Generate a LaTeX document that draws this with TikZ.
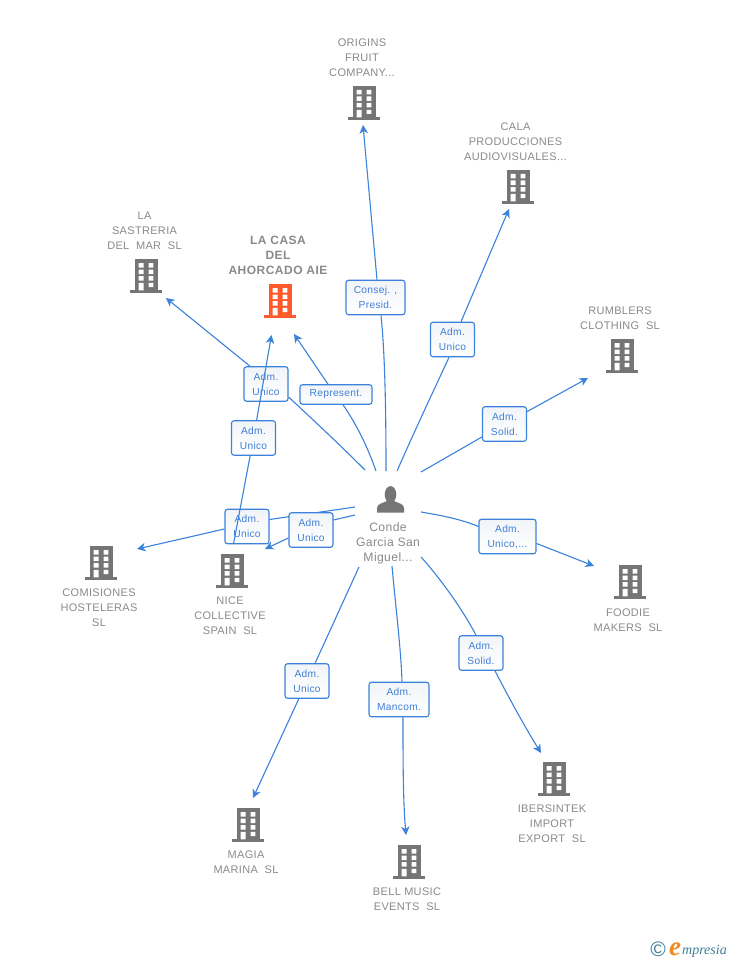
\documentclass[tikz,border=0pt]{standalone}
\usepackage{fontspec}
\setmainfont{Liberation Sans}
\newfontfamily\logofont{Liberation Serif}
\usetikzlibrary{arrows.meta}
\definecolor{edgeblue}{HTML}{3B82DC}
\definecolor{boxtext}{HTML}{3F7FD6}
\definecolor{boxtop}{HTML}{F1F4F8}
\definecolor{icongray}{HTML}{757575}
\definecolor{labelgray}{HTML}{8A8A8A}
\definecolor{hotorange}{HTML}{FF5A2B}
\definecolor{logoteal}{HTML}{3F7F95}
\definecolor{logoorange}{HTML}{F08A1E}
\newcommand{\bldgshape}[1]{%
  \begin{scope}[shift={(path picture bounding box.center)}]
    \fill[#1] (-10.7,-17) rectangle (11.7,15);
    \fill[#1] (-16,14.3) rectangle (16,17);
    \fill[white] (-7.3,-13) rectangle (-2.5,-8.5) (2.5,-13) rectangle (7.3,-8.5)
      (-7.3,-6.5) rectangle (-2.5,-2) (2.5,-6.5) rectangle (7.3,-2)
      (-7.3,0) rectangle (-2.5,4.5) (2.5,0) rectangle (7.3,4.5)
      (2.5,6.8) rectangle (7.3,11) (-7.3,6.8) rectangle (-2.5,14.3);
  \end{scope}}
\tikzset{x=1pt,y=-1pt,
  bldg/.style={minimum width=33pt,minimum height=36pt,inner sep=0pt,path picture={\bldgshape{icongray}}},
  hotbldg/.style={minimum width=33pt,minimum height=36pt,inner sep=0pt,path picture={\bldgshape{hotorange}}},
  person/.style={minimum width=30pt,minimum height=30pt,inner sep=0pt,path picture={
    \begin{scope}[shift={(path picture bounding box.center)}]
      \fill[icongray] (0,-5) ellipse (5.8 and 8.4);
      \fill[icongray] (-13.5,13.2) -- (-13.5,8.5) .. controls (-13.5,4) and (-7,3.5) .. (-3.5,1.5)
        -- (3.5,1.5) .. controls (7,3.5) and (13.5,4) .. (13.5,8.5) -- (13.5,13.2) -- cycle;
    \end{scope}}},
  tag/.style={font=\fontsize{11}{15}\selectfont\addfontfeature{LetterSpace=3},text=labelgray,align=center,inner sep=0pt,anchor=center},
  hottag/.style={font=\fontsize{12}{15}\selectfont\bfseries\addfontfeature{LetterSpace=4},text=labelgray,align=center,inner sep=0pt,anchor=center},
  persontag/.style={font=\fontsize{12.2}{15}\selectfont\addfontfeature{LetterSpace=3},text=labelgray,align=center,inner sep=0pt,anchor=center},
  rolebox/.style={draw=edgeblue,line width=1.1pt,rounded corners=2.5pt,top color=boxtop,bottom color=white,
    font=\fontsize{10.2}{15}\selectfont\addfontfeature{LetterSpace=3},text=boxtext,align=center,inner sep=0pt,minimum height=34.5pt,minimum width=44pt},
  link/.style={draw=edgeblue,line width=1.1pt,-{Stealth[length=8.5pt,width=8.5pt,inset=2.5pt]}},
  tail/.style={draw=edgeblue,line width=1.1pt},
}
\begin{document}
\begin{tikzpicture}
\useasboundingbox (0,0) rectangle (728,960);
\fill[white] (0,0) rectangle (728,960);

% free ends
\coordinate (sOrig) at (386,471);  \coordinate (eOrig) at (363,125);
\coordinate (sCala) at (397,471);  \coordinate (eCala) at (509,209);
\coordinate (sRumb) at (421,472);  \coordinate (eRumb) at (588,378);
\coordinate (sFood) at (421,512);  \coordinate (eFood) at (594,566);
\coordinate (sIber) at (421,557);  \coordinate (eIber) at (541,753);
\coordinate (sBell) at (392,566);  \coordinate (eBell) at (406,835);
\coordinate (sMagi) at (359,567);  \coordinate (eMagi) at (253,798);
\coordinate (sComi) at (355,507);  \coordinate (eComi) at (137,549);
\coordinate (sNiceB) at (355,515); \coordinate (eNiceB) at (265,549);
\coordinate (sSast) at (365,470);  \coordinate (eSast) at (166,298);
\coordinate (sCasa) at (376,471);  \coordinate (eCasa) at (294,334);
\coordinate (sNice) at (233.5,544);\coordinate (eNice) at (271.5,335);

% icons
\node[bldg] (origins) at (364,103) {};
\node[bldg] (cala) at (518,187) {};
\node[bldg] (sastreria) at (146,276) {};
\node[hotbldg] (casa) at (280,301) {};
\node[bldg] (rumblers) at (622,356) {};
\node[bldg] (comisiones) at (101,563) {};
\node[bldg] (nice) at (232,571) {};
\node[bldg] (foodie) at (630,582) {};
\node[bldg] (ibersintek) at (554,779) {};
\node[bldg] (magia) at (248,825) {};
\node[bldg] (bell) at (409,862) {};
\node[person] (conde) at (390.5,499.5) {};

% labels
\node[tag] (tOrig) at (362,58) {ORIGINS\\FRUIT\\COMPANY...};
\node[tag] (tCala) at (515.5,142) {CALA\\PRODUCCIONES\\AUDIOVISUALES...};
\node[tag] (tSast) at (144.5,231) {LA\\SASTRERIA\\DEL\ \ MAR\ \ SL};
\node[hottag] (tCasa) at (278,255.5) {LA CASA\\DEL\\AHORCADO AIE};
\node[tag] (tRumb) at (620,318.5) {RUMBLERS\\CLOTHING\ \ SL};
\node[tag] (tComi) at (99,608) {COMISIONES\\HOSTELERAS\\SL};
\node[tag] (tNice) at (230,616) {NICE\\COLLECTIVE\\SPAIN\ \ SL};
\node[tag] (tFood) at (628,620.5) {FOODIE\\MAKERS\ \ SL};
\node[tag] (tIber) at (552,824) {IBERSINTEK\\IMPORT\\EXPORT\ \ SL};
\node[tag] (tMagi) at (246,862.5) {MAGIA\\MARINA\ \ SL};
\node[tag] (tBell) at (407,899.5) {BELL MUSIC\\EVENTS\ \ SL};
\node[persontag] (tConde) at (388,543) {Conde\\Garcia San\\Miguel...};

% connectors with their role boxes, in stacking order
\node[rolebox] (bSast) at (266,384) {Adm.\\Unico};
\draw[tail] (sSast) .. controls (335,440) and (310,417) .. ([yshift=-13pt]bSast.east);
\draw[link] ([xshift=-16pt]bSast.north) -- (eSast);

\node[rolebox,minimum width=72pt,minimum height=19.5pt] (bCasa) at (336,394.5) {Represent.};
\draw[tail] (sCasa) .. controls (368,448) and (357,425) .. ([xshift=7pt]bCasa.south);
\draw[link] ([xshift=-8pt]bCasa.north) -- (eCasa);

\node[rolebox,minimum width=59pt] (bOrig) at (375.5,297.5) {Consej. ,\\Presid.};
\draw[tail] (sOrig) .. controls (386,410) and (385,355) .. ([xshift=5.5pt]bOrig.south);
\draw[link] ([xshift=1.5pt]bOrig.north) -- (eOrig);

\node[rolebox] (bCala) at (452.5,339.5) {Adm.\\Unico};
\draw[tail] (sCala) .. controls (415,430) and (433,392) .. ([xshift=-3.5pt]bCala.south);
\draw[link] ([xshift=8.5pt]bCala.north) -- (eCala);

\node[rolebox] (bRumb) at (504.5,424) {Adm.\\Solid.};
\draw[tail] (sRumb) -- (bRumb);
\draw[link] (bRumb) -- (eRumb);

\node[rolebox,minimum width=57pt] (bFood) at (507.5,536.5) {Adm.\\Unico,...};
\draw[tail] (sFood) .. controls (445,516) and (463,520) .. ([yshift=10pt]bFood.west);
\draw[link] ([yshift=-7pt]bFood.east) -- (eFood);

\node[rolebox] (bIber) at (481,653) {Adm.\\Solid.};
\draw[tail] (sIber) .. controls (440,578) and (463,610) .. ([xshift=-5pt]bIber.north);
\draw[link] ([xshift=14pt]bIber.south) .. controls (510,700) and (525,727) .. (eIber);

\node[rolebox,minimum width=60pt] (bBell) at (399,699.5) {Adm.\\Mancom.};
\draw[tail] (sBell) .. controls (396,610) and (401,650) .. ([xshift=3pt]bBell.north);
\draw[link] ([xshift=4pt]bBell.south) .. controls (403,760) and (403,800) .. (eBell);

\node[rolebox] (bMagi) at (307,681) {Adm.\\Unico};
\draw[tail] (sMagi) -- (bMagi);
\draw[link] (bMagi) -- (eMagi);

\node[rolebox] (bComi) at (247,526.5) {Adm.\\Unico};
\draw[tail] (sComi) -- ([yshift=7pt]bComi.east);
\draw[link] ([yshift=-2.5pt]bComi.west) -- (eComi);

\node[rolebox] (bNiceB) at (311,530) {Adm.\\Unico};
\draw[tail] (sNiceB) -- ([yshift=10pt]bNiceB.east);
\draw[link] ([yshift=-8pt]bNiceB.west) -- (eNiceB);

\node[rolebox] (bNice) at (253.5,438) {Adm.\\Unico};
\draw[tail] (sNice) -- (bNice);
\draw[link] (bNice) -- (eNice);

% logo
\node[inner sep=0pt,text=logoteal,font=\fontsize{21}{21}\selectfont] (copy) at (658,949) {©};
\node[inner sep=0pt,anchor=base west,text=logoorange,font=\logofont\itshape\bfseries\fontsize{27}{27}\selectfont] (logoE) at (669,955) {e};
\node[inner sep=0pt,anchor=base west,text=logoteal,font=\logofont\itshape\fontsize{14}{15}\selectfont] (logoT) at (682,954) {mpresia};
\end{tikzpicture}
\end{document}
